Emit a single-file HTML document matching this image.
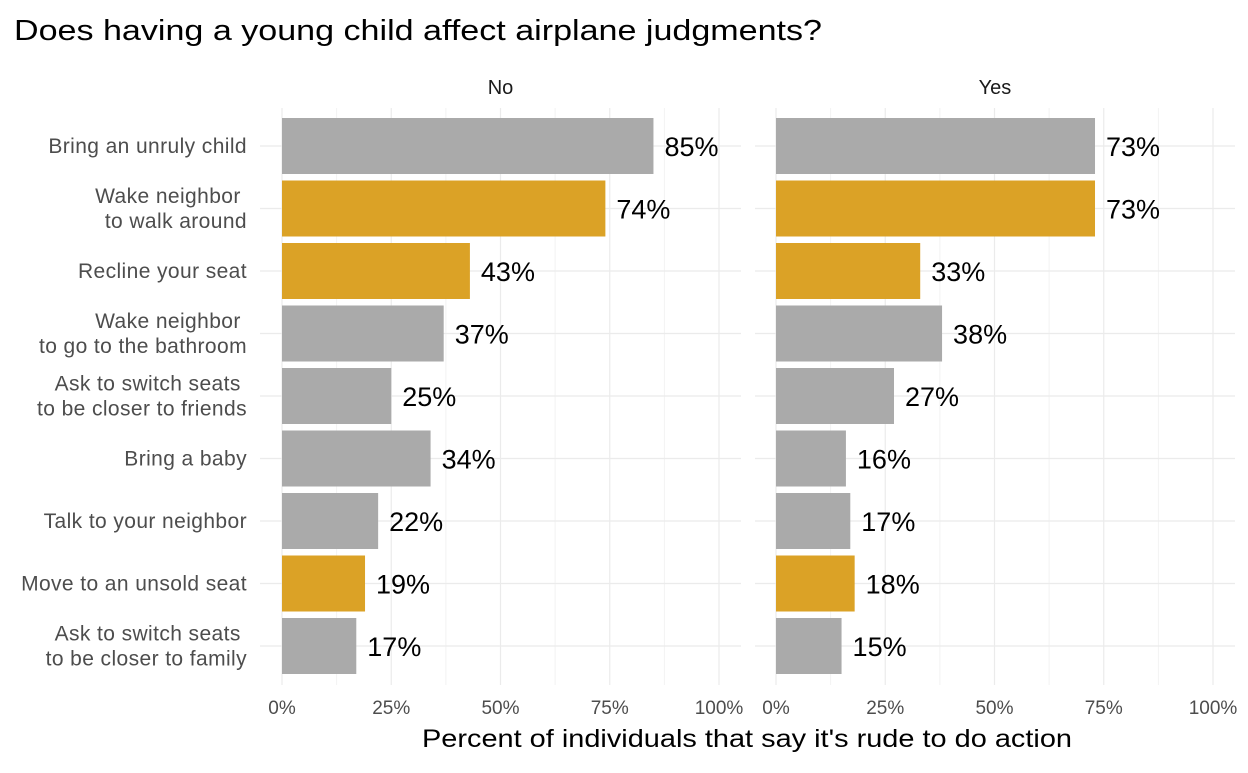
<!DOCTYPE html>
<html><head><meta charset="utf-8"><style>
body{margin:0;background:#fff;width:1248px;height:768px;overflow:hidden;font-family:"Liberation Sans",sans-serif}
</style></head><body>
<svg id="chart" width="1248" height="768" xmlns="http://www.w3.org/2000/svg">
<text x="14" y="40" font-size="29" textLength="808" lengthAdjust="spacingAndGlyphs" fill="#000">Does having a young child affect airplane judgments?</text>
<text x="422" y="747" font-size="25" textLength="650" lengthAdjust="spacingAndGlyphs" fill="#000">Percent of individuals that say it's rude to do action</text>
<g id="plot"></g>
</svg>
<script>
const categories=["Bring an unruly child","Wake neighbor \nto walk around","Recline your seat","Wake neighbor \nto go to the bathroom","Ask to switch seats \nto be closer to friends","Bring a baby","Talk to your neighbor","Move to an unsold seat","Ask to switch seats \nto be closer to family"];
const highlighted=[false,true,true,false,false,false,false,true,false];
const panels=["No","Yes"];
const valuesNo=[85,74,43,37,25,34,22,19,17];
const valuesYes=[73,73,33,38,27,16,17,18,15];
const ticks=[0,25,50,75,100];
const tickLabels=["0%","25%","50%","75%","100%"];

const NS="http://www.w3.org/2000/svg";
const g=document.getElementById('plot');
function el(t,a,txt){const e=document.createElementNS(NS,t);for(const k in a)e.setAttribute(k,a[k]);if(txt!==undefined)e.textContent=txt;g.appendChild(e);return e;}
const panelX=[{x0:260,x1:741,z:282},{x0:755,x1:1235,z:776}];
const scale=437/100;
const rowY=i=>146+i*62.5;
const plotTop=108,plotBottom=685,barH=56;
[valuesNo,valuesYes].forEach((vals,p)=>{
  const P=panelX[p];
  const xs=v=>P.z+v*scale;
  for(let t=12.5;t<100;t+=25){const l=el('line',{x1:xs(t),x2:xs(t),y1:plotTop,y2:plotBottom,stroke:'#f2f2f2','stroke-width':1});}
  ticks.forEach((t,k)=>{
    const l=el('line',{x1:xs(t),x2:xs(t),y1:plotTop,y2:plotBottom,stroke:'#ebebeb','stroke-width':1.2});
    
    const tx=el('text',{x:xs(t),y:714,'font-size':19,fill:'#4d4d4d','text-anchor':'middle'},tickLabels[k]);
    
  });
  categories.forEach((c,i)=>{
    const l=el('line',{x1:P.x0,x2:P.x1,y1:rowY(i),y2:rowY(i),stroke:'#ebebeb','stroke-width':1.2});
    
  });
  const s=el('text',{x:(P.x0+P.x1)/2,y:94,'font-size':20,fill:'#1a1a1a','text-anchor':'middle'},panels[p]);
  
  vals.forEach((v,i)=>{
    const r=el('rect',{x:xs(0),y:rowY(i)-barH/2,width:xs(v)-xs(0),height:barH,fill:highlighted[i]?'#dba226':'#aaaaaa'});
    
    const t=el('text',{x:xs(v)+11,y:rowY(i)+10,'font-size':27,fill:'#000'},v+'%');
    
  });
});
categories.forEach((c,i)=>{
  const lines=c.split('\n');
  const t=el('text',{x:247,'font-size':21,'letter-spacing':0.4,fill:'#4d4d4d','text-anchor':'end'});
  
  lines.forEach((ln,j)=>{const ts=document.createElementNS(NS,'tspan');ts.setAttribute('x',247);ts.setAttribute('y',rowY(i)+7+(j-(lines.length-1)/2)*25);ts.textContent=ln.replace(/ $/,'\u00a0');t.appendChild(ts);});
});
</script>
</body></html>
